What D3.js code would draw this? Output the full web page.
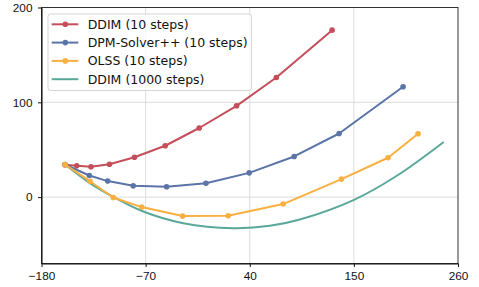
<!DOCTYPE html>
<html>
<head>
<meta charset="utf-8">
<script src="https://cdn.jsdelivr.net/npm/d3@7"></script>
<style>
  html, body { margin: 0; padding: 0; background: #fff; }
  svg { display: block; font-family: "DejaVu Sans", sans-serif; }
  .tick text { font-size: 11.8px; fill: #111; }
</style>
</head>
<body>
<svg id="chart" width="479" height="287"></svg>
<script>
// values
var xTicks = [-180, -70, 40, 150, 260]
var yTicks = [0, 100, 200]

var ddim10X = [-155.2, -142.8, -127.7, -108.2, -81.8, -49.3, -13.4, 26.1, 68.1, 127.0]
var ddim10Y = [34.1, 33.1, 32.0, 34.6, 42.0, 54.2, 72.9, 96.3, 126.2, 176.1]

var dpmX = [-155.2, -129.5, -110.1, -83.1, -47.8, -6.3, 39.4, 86.9, 134.4, 202.0]
var dpmY = [34.4, 22.8, 16.9, 11.9, 10.9, 14.7, 25.6, 42.9, 67.1, 116.4]

var olssX = [-155.2, -128.8, -104.2, -74.2, -30.9, 17.2, 75.3, 136.9, 186.1, 217.8]
var olssY = [34.4, 16.8, -0.4, -10.5, -20.0, -19.6, -7.3, 19.0, 41.5, 66.9]

var ddim1000X = [-155.2, -128.8, -104.2, -72.5, -30.3, 22.5, 61.2, 92.9, 150.2, 195.0, 244.2]
var ddim1000Y = [34.4, 14.8, 0.3, -15.2, -27.5, -32.7, -30.3, -23.6, -2.8, 22.3, 57.7]

var seriesNames = ['DDIM (10 steps)', 'DPM-Solver++ (10 steps)', 'OLSS (10 steps)', 'DDIM (1000 steps)']
var seriesColors = ['#c44e5a', '#5a74a8', '#f9b040', '#5aa89a']

function zipPts(xs, ys){ return xs.map(function(x, i){ return {x: x, y: ys[i]} }) }

var series = [
  {name: seriesNames[0], color: seriesColors[0], pts: zipPts(ddim10X, ddim10Y), markers: true},
  {name: seriesNames[1], color: seriesColors[1], pts: zipPts(dpmX, dpmY), markers: true},
  {name: seriesNames[2], color: seriesColors[2], pts: zipPts(olssX, olssY), markers: true},
  {name: seriesNames[3], color: seriesColors[3], pts: zipPts(ddim1000X, ddim1000Y), markers: false}
]

var margin = {left: 41.5, right: 21, top: 7.5, bottom: 23.5}
var W = 479, H = 287
var svg = d3.select('#chart')

var x = d3.scaleLinear().domain([-180, 260]).range([margin.left, W - margin.right])
var y = d3.scaleLinear().domain([-70, 200]).range([H - margin.bottom, margin.top])

// grid
var grid = svg.append('g')
grid.selectAll('.gx').data(xTicks.slice(1, -1)).enter().append('line')
  .attr('x1', function(d){ return x(d) }).attr('x2', function(d){ return x(d) })
  .attr('y1', y(-70)).attr('y2', y(200))
  .attr('stroke', '#dcdcdc').attr('stroke-width', 1)
grid.selectAll('.gy').data([0, 100]).enter().append('line')
  .attr('y1', function(d){ return y(d) }).attr('y2', function(d){ return y(d) })
  .attr('x1', x(-180)).attr('x2', x(260))
  .attr('stroke', '#dcdcdc').attr('stroke-width', 1)

// lines
var line = d3.line().x(function(d){ return x(d.x) }).y(function(d){ return y(d.y) })
var smooth = d3.line().curve(d3.curveCatmullRom.alpha(0.5))
  .x(function(d){ return x(d.x) }).y(function(d){ return y(d.y) })

// teal first, then the marker series
var order = [3, 0, 1, 2]
order.forEach(function(i){
  var s = series[i]
  svg.append('path').datum(s.pts)
    .attr('d', s.markers ? line : smooth)
    .attr('fill', 'none').attr('stroke', s.color)
    .attr('stroke-width', 2).attr('stroke-linejoin', 'round').attr('stroke-linecap', 'round')
  if(s.markers){
    svg.append('g').selectAll('circle').data(s.pts).enter().append('circle')
      .attr('cx', function(d){ return x(d.x) }).attr('cy', function(d){ return y(d.y) })
      .attr('r', 2.8).attr('fill', s.color)
  }
})

// frame
svg.append('rect')
  .attr('x', x(-180)).attr('y', y(200))
  .attr('width', x(260) - x(-180)).attr('height', y(-70) - y(200))
  .attr('fill', 'none').attr('stroke', '#333').attr('stroke-width', 1)

// axes
svg.append('g').attr('transform', 'translate(0,' + y(-70) + ')')
  .call(d3.axisBottom(x).tickValues(xTicks).tickSize(3.5).tickPadding(5).tickSizeOuter(0))
svg.append('g').attr('transform', 'translate(' + x(-180) + ',0)')
  .call(d3.axisLeft(y).tickValues(yTicks).tickSize(3.5).tickPadding(5.5).tickSizeOuter(0))
svg.selectAll('.domain').attr('stroke', '#111').attr('stroke-width', 1.1)
svg.selectAll('.tick line').attr('stroke', '#111')
svg.selectAll('.tick text').attr('font-family', null).attr('font-size', null)

// legend
var lg = svg.append('g').attr('transform', 'translate(48,14)')
lg.append('rect').attr('width', 203.5).attr('height', 76.5).attr('rx', 2.5)
  .attr('fill', '#fff').attr('fill-opacity', 0.8).attr('stroke', '#d5d5d5')
var rows = lg.selectAll('.row').data(series).enter().append('g')
  .attr('transform', function(d, i){ return 'translate(0,' + (10.3 + i * 18.3) + ')' })
rows.append('line').attr('x1', 3.7).attr('x2', 30.3)
  .attr('stroke', function(d){ return d.color }).attr('stroke-width', 2)
rows.filter(function(d){ return d.markers }).append('circle')
  .attr('cx', 17.3).attr('r', 2.8).attr('fill', function(d){ return d.color })
rows.append('text').attr('x', 39.7).attr('dy', '0.36em')
  .attr('font-size', '12.5px').attr('fill', '#111')
  .text(function(d){ return d.name })
</script>
</body>
</html>
